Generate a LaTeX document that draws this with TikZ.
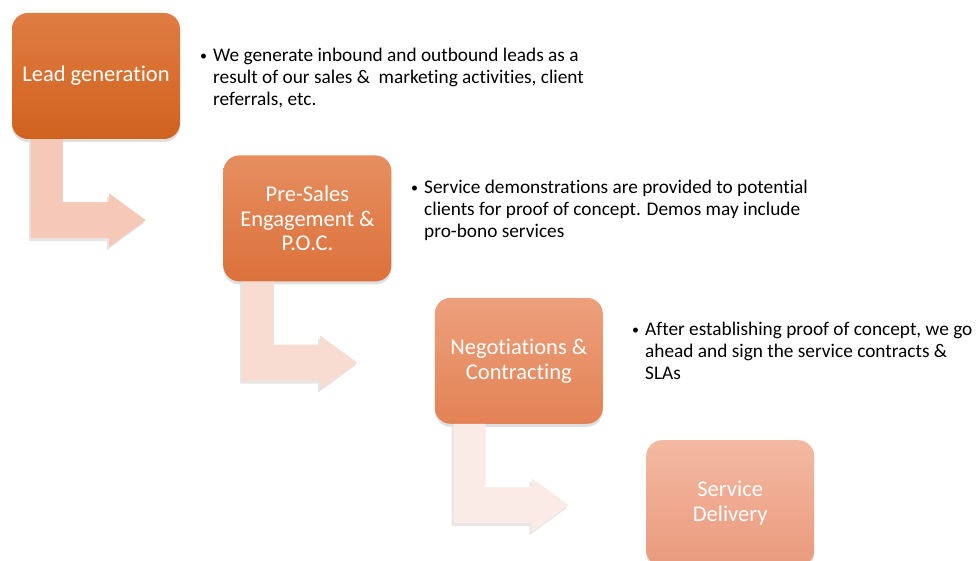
\documentclass[tikz,border=0pt]{standalone}
\usepackage{fontspec}
\setmainfont{Carlito}[Ligatures=NoCommon]
\usepackage{tikz}
\usetikzlibrary{positioning,shadows}

\definecolor{stepA}{HTML}{DF7C42}
\definecolor{stepAd}{HTML}{D1621E}
\definecolor{stepB}{HTML}{E68E60}
\definecolor{stepBd}{HTML}{DC713B}
\definecolor{stepC}{HTML}{EDA07C}
\definecolor{stepCd}{HTML}{E38255}
\definecolor{stepD}{HTML}{F3B9A2}
\definecolor{stepDd}{HTML}{EA9A7C}
\definecolor{bendA}{HTML}{F5C8B7}
\definecolor{bendB}{HTML}{F8DBD1}
\definecolor{bendC}{HTML}{FBEBE6}

\newcommand{\bulletmark}{\makebox[13pt][l]{\raisebox{1.5pt}{\fontsize{14}{14}\selectfont\textbullet}}}

\begin{document}
\begin{tikzpicture}[
	x=1pt,y=-1pt,
	stepbox/.style={
		rectangle, rounded corners=16pt,
		minimum width=168pt, minimum height=126pt,
		inner sep=2pt, align=center,
		text=white,
		font=\fontsize{22.5}{24.8}\selectfont,
		drop shadow={shadow xshift=0pt,shadow yshift=-3pt,opacity=0.25}
	},
	bendarrow/.style={
		draw=none,
		drop shadow={shadow xshift=-2pt,shadow yshift=-3pt,opacity=0.2}
	},
	note/.style={
		anchor=base west, inner sep=0pt, align=left,
		font=\fontsize{19.3}{22}\selectfont
	}
	]
	\useasboundingbox (0,0) rectangle (978,561);
	
	\node[stepbox,top color=stepA,bottom color=stepAd] at (96,76)
	(lead) {Lead generation};
	\node[stepbox,top color=stepB,bottom color=stepBd,below right=16pt and 43pt of lead]
	(presales) {Pre-Sales\\Engagement \&\\P.O.C.};
	\node[stepbox,top color=stepC,bottom color=stepCd,below right=16pt and 43pt of presales]
	(nego) {Negotiations \&\\Contracting};
	\node[stepbox,top color=stepD,bottom color=stepDd,below right=16pt and 43pt of nego]
	(delivery) {Service\\Delivery};
	
	% bent arrows under each step
	\foreach \stp/\col in {lead/bendA, presales/bendB, nego/bendC}{
		\draw[bendarrow,fill=\col,shift={(\stp.south west)}]
		(19,0) -- (51,0) -- (51,63) -- (97,63) -- (97,54) -- (134,81)
		-- (97,108) -- (97,99) -- (19,99) -- cycle;
	}
	
	\node[note] (txtlead) at (200,62)
	{\begin{tabular}[t]{@{}l@{}l@{}}
			\bulletmark & We generate inbound and outbound leads as a\\
			& result of our sales \&\ \ marketing activities, client\\
			& referrals, etc.
	\end{tabular}};
	\node[note] (txtpresales) at (411,194)
	{\begin{tabular}[t]{@{}l@{}l@{}}
			\bulletmark & Service demonstrations are provided to potential\\
			& clients for proof of concept. Demos may include\\
			& pro-bono services
	\end{tabular}};
	\node[note] (txtnego) at (632,336)
	{\begin{tabular}[t]{@{}l@{}l@{}}
			\bulletmark & After establishing proof of concept, we go\\
			& ahead and sign the service contracts \&\\
			& SLAs
	\end{tabular}};
\end{tikzpicture}
\end{document}
